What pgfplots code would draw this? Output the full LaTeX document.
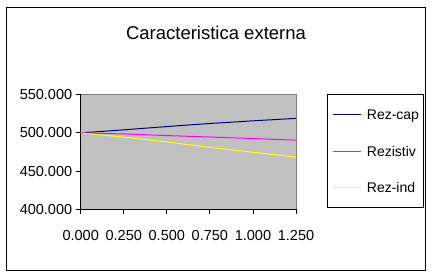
\documentclass[border=0pt]{standalone}
\usepackage{pgfplots}
\pgfplotsset{compat=1.18}
\usepackage{fontspec}
\setmainfont{Liberation Sans}
\definecolor{navyc}{RGB}{0,0,128}
\definecolor{magc}{RGB}{255,0,255}
\definecolor{yelc}{RGB}{255,255,0}
\definecolor{silverc}{RGB}{192,192,192}
\definecolor{grayc}{RGB}{128,128,128}
\begin{document}
\begin{tikzpicture}
\path[use as bounding box] (0pt,0pt) rectangle (432pt,278pt);
\draw[black, line width=1pt] (6.5pt,7.3pt) rectangle (425pt,270pt);
\node[anchor=base, font=\fontsize{18.5}{20}\selectfont, inner sep=0pt] at (216pt,238pt) {Caracteristica externa};
\begin{axis}[
  scale only axis,
  width=215.3pt, height=114.6pt,
  at={(80.7pt,68.7pt)}, anchor=south west,
  xmin=0, xmax=1.25, ymin=400, ymax=550,
  xtick={0,0.25,0.5,0.75,1,1.25},
  ytick={400,450,500,550},
  axis x line=bottom, axis y line=left,
  axis line style={-, black, line width=0.8pt},
  axis background/.style={fill=silverc, draw=grayc, line width=0.8pt},
  tick align=outside,
  major tick length=5pt,
  tick style={black, line width=0.8pt},
  ticklabel style={font=\fontsize{14.5}{16}\selectfont},
  xticklabel style={yshift=-13pt},
  /pgf/number format/.cd, fixed, fixed zerofill, precision=3, 1000 sep={}, assume math mode=true,
  /pgfplots/.cd,
  legend image code/.code={\draw[#1] (0pt,0pt)--(28.7pt,0pt);},
  legend cell align=left,
  legend style={at={(1.1454,1.006)}, anchor=north west, draw=black, line width=0.8pt, fill=white,
    font=\fontsize{14}{16}\selectfont, inner xsep=4.5pt, inner ysep=14.8pt,
    row sep=26.85pt, column sep=5pt,
    nodes={inner sep=0pt, text height=10pt, text depth=0pt}},
]
\addplot[navyc, line width=1pt] coordinates {(0,500)(0.25,504)(0.5,508.3)(0.75,512.3)(1,515.8)(1.25,519)};
\addlegendentry{Rez-cap}
\addplot[magc, line width=1pt] coordinates {(0,500)(0.25,498.6)(0.5,496.5)(0.75,494.6)(1,492.6)(1.25,490.5)};
\addlegendentry{Rezistiv}
\addplot[yelc, line width=1pt] coordinates {(0,500)(0.25,494.4)(0.5,488.2)(0.75,481)(1,474.6)(1.25,468.4)};
\addlegendentry{Rez-ind}
\end{axis}
\end{tikzpicture}
\end{document}
